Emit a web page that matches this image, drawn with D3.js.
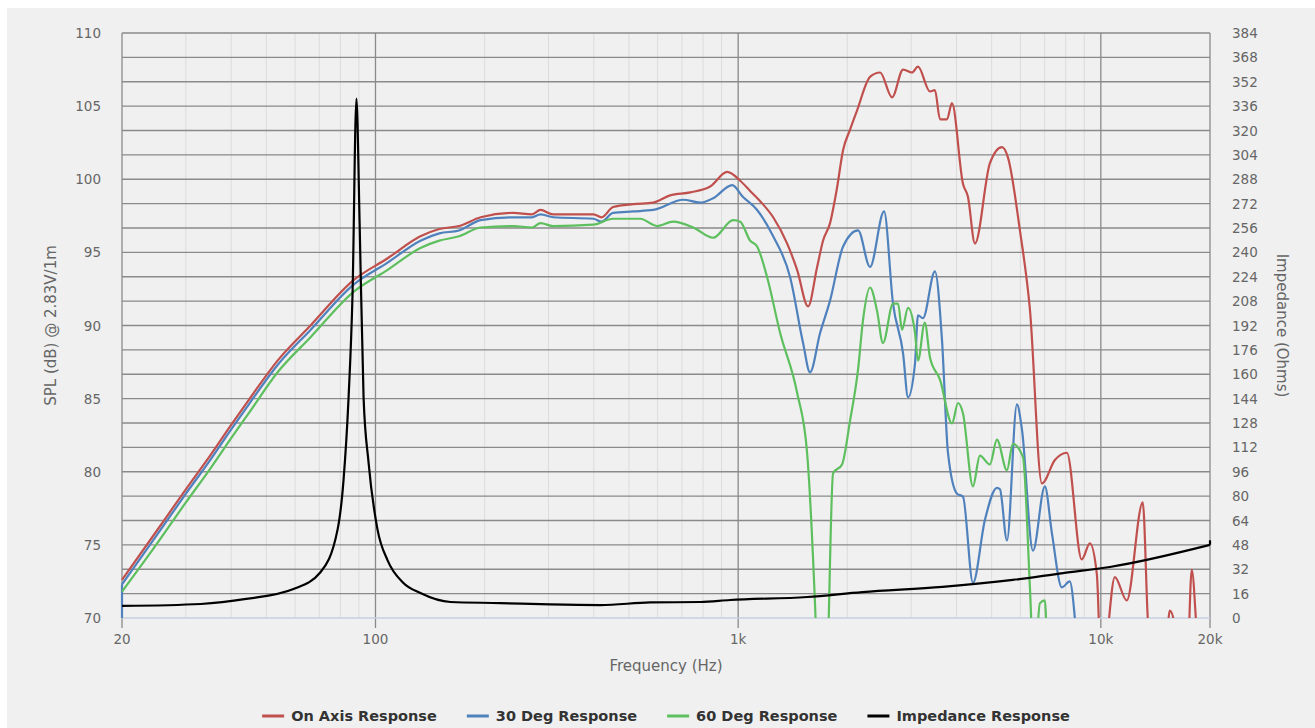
<!DOCTYPE html>
<html>
<head>
<meta charset="utf-8">
<script src="https://cdn.jsdelivr.net/npm/d3@7"></script>
<style>
  body { margin: 0; background: #fff; }
  text { font-family: "DejaVu Sans", Verdana, sans-serif; }
</style>
</head>
<body>
<div id="chart"></div>
<script>
// Datos: [frecuencia Hz, dB]
const onAxis = [
  [20,72.6],[25,76.0],[30,78.8],[35,81.1],[40,83.2],[45,85.0],[53.7,87.6],[66.2,90.0],[87,93.1],[108,94.6],
  [133,96.1],[150,96.6],[170,96.8],[195,97.4],[240,97.7],[270,97.6],[285,97.9],[309,97.6],[399,97.6],[420,97.4],
  [452,98.1],[514,98.3],[583,98.4],[649,98.9],[738,99.1],[837,99.5],[933,100.5],[1013,99.9],[1079,99.2],
  [1150,98.5],[1249,97.4],[1365,95.6],[1454,93.8],[1559,91.3],[1651,94.0],[1714,95.8],[1792,97.0],[1870,99.3],
  [1947,102.0],[2035,103.4],[2127,104.7],[2310,107.0],[2462,107.3],[2657,105.6],[2849,107.5],[3016,107.3],[3132,107.7],
  [3381,106.0],[3488,106.1],[3602,104.1],[3765,104.1],[3886,105.2],[4167,99.7],[4301,98.8],[4497,95.6],
  [4945,101.1],[5338,102.2],[5544,101.5],[5983,96.5],[6375,91.1],[6879,79.2],[7470,80.8],[8060,81.3],
  [8860,74.0],[9330,75.1],[9750,73.0],[10050,65.5],[10390,68.5],[10930,72.8],[11790,71.2],[13050,77.9],
  [13470,70.0],[14200,64],[15000,66],[15490,70.5],[15990,69.5],[16600,64],[17300,66],[17810,73.3],
  [18390,69.0],[19000,64],[20000,62]
];

const deg30 = [
  [20,72.3],[25,75.7],[30,78.5],[35,80.8],[40,82.9],[45,84.7],[53.7,87.3],[66.2,89.7],[87,92.8],[108,94.3],
  [133,95.8],[150,96.3],[170,96.5],[195,97.2],[240,97.4],[270,97.4],[285,97.6],[309,97.4],[399,97.3],
  [420,97.1],[452,97.7],[514,97.8],[583,97.9],[706,98.6],[786,98.4],[853,98.7],[963,99.6],[1030,98.8],
  [1128,97.9],[1249,96.1],[1391,93.3],[1510,88.8],[1578,86.8],[1683,89.5],[1792,91.7],[1947,95.4],
  [2141,96.5],[2310,94.0],[2525,97.8],[2673,91.5],[2849,88.1],[2940,85.1],[3073,87.4],[3132,90.7],
  [3233,90.5],[3488,93.7],[3648,89.0],[3789,81.3],[4012,78.5],[4167,78.3],[4440,72.4],[4790,76.7],
  [5170,78.9],[5270,78.8],[5510,75.3],[5870,84.6],[6060,82.9],[6500,74.6],[7010,79.0],[7330,75.8],
  [7810,72.1],[8210,72.5],[8480,70.0],[8800,64]
];
// tramo vertical que baja al inicio de la curva de 30 grados
const deg30Start = [[20,60],[20,72.3]];

const deg60 = [
  [20,71.8],[25,75.1],[30,77.9],[35,80.2],[40,82.3],[45,84.1],[53.7,86.8],[66.2,89.2],[87,92.3],[108,93.8],
  [133,95.3],[150,95.8],[170,96.1],[195,96.7],[240,96.8],[270,96.7],[285,97.0],[309,96.8],[399,96.9],[452,97.3],
  [537,97.3],[598,96.8],[662,97.1],[752,96.7],[853,96.0],[969,97.2],[1013,97.1],[1079,95.8],[1128,95.4],
  [1202,93.3],[1305,89.5],[1454,85.4],[1549,81.3],[1630,70.8],[1690,60],[1759,66],[1827,79.9],
  [1934,80.5],[2035,83.5],[2141,87.0],[2210,90.4],[2310,92.6],[2415,91.0],[2508,88.8],[2673,91.5],
  [2760,91.5],[2830,89.7],[2940,91.2],[3073,89.5],[3132,87.6],[3270,90.2],[3381,87.8],[3602,86.3],
  [3886,83.3],[4040,84.7],[4167,84.0],[4440,79.0],[4640,81.1],[4945,80.5],[5170,82.2],[5510,80.1],
  [5720,81.9],[6100,81.0],[6375,72.1],[6550,66],[6790,71.0],[7010,71.2],[7150,66],[7400,62]
];

// Impedancia: [frecuencia Hz, ohmios]
const impedance = [
  [20,7.9],[33,9.2],[44,12.5],[59.4,19],[70.5,30],[78.6,58],[81.6,90],[84.3,145],[86.4,211],[88.6,341],
  [90.4,260],[92.7,145],[95.7,102],[101.3,58],[107.9,38],[119.4,23],[133,16.4],[161,10.5],[221,9.8],
  [303,8.9],[417,8.5],[572,10.2],[786,10.5],[950,11.8],[1550,13.8],[2199,17],[3660,20.4],[5720,25],
  [7860,29.5],[10590,33.5],[20000,48]
];
const impedanceEnd = [[20000,48],[20000,51]];

const xTicks = [20, 100, 1000, 10000, 20000];
const xTickLabels = ["20", "100", "1k", "10k", "20k"];
const splTicks = [70, 75, 80, 85, 90, 95, 100, 105, 110];
const ohmTicks = d3.range(0, 385, 16);

const seriesNames = ["On Axis Response", "30 Deg Response", "60 Deg Response", "Impedance Response"];
const seriesColors = ["#c0504d", "#4f81bd", "#5dbf5d", "#000000"];

// Dimensiones
const width = 1315;
const height = 728;
const plotLeft = 122, plotRight = 1210, plotTop = 33, plotBottom = 618;

const svg = d3.select("#chart").append("svg")
    .attr("width", width)
    .attr("height", height);

svg.append("rect")
    .attr("x", 7).attr("y", 8)
    .attr("width", width - 7).attr("height", height - 8)
    .attr("fill", "#f0f0f0");

const x = d3.scaleLog().domain([20, 20000]).range([plotLeft, plotRight]);
const ySpl = d3.scaleLinear().domain([70, 110]).range([plotBottom, plotTop]);
const yOhm = d3.scaleLinear().domain([0, 384]).range([plotBottom, plotTop]);

// Rejilla vertical menor
const minor = [];
[10, 100, 1000, 10000].forEach(dec => {
    for (let m = 2; m <= 9; m++) {
        const f = dec * m;
        if (f > 20 && f < 20000) minor.push(f);
    }
});
svg.append("g").selectAll("line")
    .data(minor)
    .enter().append("line")
    .attr("x1", d => x(d)).attr("x2", d => x(d))
    .attr("y1", plotTop).attr("y2", plotBottom)
    .attr("stroke", "#dcdcdc").attr("stroke-width", 1);

// Rejilla horizontal (sigue al eje de impedancia)
svg.append("g").selectAll("line")
    .data(ohmTicks.filter(d => d > 0))
    .enter().append("line")
    .attr("x1", plotLeft).attr("x2", plotRight)
    .attr("y1", d => yOhm(d)).attr("y2", d => yOhm(d))
    .attr("stroke", "#8a8a8a").attr("stroke-width", 1.3);

// Rejilla vertical mayor y bordes
svg.append("g").selectAll("line")
    .data(xTicks)
    .enter().append("line")
    .attr("x1", d => x(d)).attr("x2", d => x(d))
    .attr("y1", plotTop).attr("y2", plotBottom + 10)
    .attr("stroke", "#8a8a8a").attr("stroke-width", 1.3);

// Linea del eje X
svg.append("line")
    .attr("x1", plotLeft).attr("x2", plotRight)
    .attr("y1", plotBottom).attr("y2", plotBottom)
    .attr("stroke", "#c4d0e0").attr("stroke-width", 1.5);

// Etiquetas de los ejes
svg.append("g").selectAll("text")
    .data(splTicks)
    .enter().append("text")
    .attr("x", 101).attr("y", d => ySpl(d) + 5)
    .attr("text-anchor", "end")
    .attr("font-size", 13.5).attr("fill", "#666")
    .text(d => d);

svg.append("g").selectAll("text")
    .data(ohmTicks)
    .enter().append("text")
    .attr("x", 1232).attr("y", d => yOhm(d) + 5)
    .attr("font-size", 13.5).attr("fill", "#666")
    .text(d => d);

svg.append("g").selectAll("text")
    .data(xTicks)
    .enter().append("text")
    .attr("x", d => x(d)).attr("y", 644)
    .attr("text-anchor", "middle")
    .attr("font-size", 13.5).attr("fill", "#666")
    .text((d, i) => xTickLabels[i]);

svg.append("text")
    .attr("x", (plotLeft + plotRight) / 2).attr("y", 671)
    .attr("text-anchor", "middle")
    .attr("font-size", 15).attr("fill", "#666")
    .text("Frequency (Hz)");

svg.append("text")
    .attr("transform", `translate(56,${(plotTop + plotBottom) / 2}) rotate(-90)`)
    .attr("text-anchor", "middle")
    .attr("font-size", 15).attr("fill", "#666")
    .text("SPL (dB) @ 2.83V/1m");

svg.append("text")
    .attr("transform", `translate(1277,${(plotTop + plotBottom) / 2}) rotate(90)`)
    .attr("text-anchor", "middle")
    .attr("font-size", 15).attr("fill", "#666")
    .text("Impedance (Ohms)");

// Curvas
svg.append("clipPath").attr("id", "plot-clip")
    .append("rect")
    .attr("x", plotLeft - 2).attr("y", plotTop)
    .attr("width", plotRight - plotLeft + 4).attr("height", plotBottom - plotTop);

const splLine = d3.line()
    .x(d => x(d[0]))
    .y(d => ySpl(d[1]))
    .curve(d3.curveMonotoneX);

const ohmLine = d3.line()
    .x(d => x(d[0]))
    .y(d => yOhm(d[1]))
    .curve(d3.curveMonotoneX);

const straightSpl = d3.line().x(d => x(d[0])).y(d => ySpl(d[1]));
const straightOhm = d3.line().x(d => x(d[0])).y(d => yOhm(d[1]));

const plot = svg.append("g").attr("clip-path", "url(#plot-clip)");

function addPath(data, gen, color) {
    plot.append("path")
        .datum(data)
        .attr("d", gen)
        .attr("fill", "none")
        .attr("stroke", color)
        .attr("stroke-width", 2.2)
        .attr("stroke-linejoin", "round");
}

addPath(onAxis, splLine, seriesColors[0]);
addPath(deg30Start, straightSpl, seriesColors[1]);
addPath(deg30, splLine, seriesColors[1]);
addPath(deg60, splLine, seriesColors[2]);
addPath(impedance, ohmLine, seriesColors[3]);
addPath(impedanceEnd, straightOhm, seriesColors[3]);

// Leyenda
const legend = svg.append("g");
const items = seriesNames.map((name, i) => {
    const g = legend.append("g");
    g.append("line")
        .attr("x1", 0).attr("x2", 22)
        .attr("y1", 716).attr("y2", 716)
        .attr("stroke", seriesColors[i]).attr("stroke-width", 3);
    const t = g.append("text")
        .attr("x", 29).attr("y", 721)
        .attr("font-size", 14.5).attr("font-weight", "bold").attr("fill", "#333")
        .text(name);
    return { g: g, w: 29 + t.node().getComputedTextLength() };
});
const gap = 30;
const total = d3.sum(items, d => d.w) + gap * (items.length - 1);
let pos = (plotLeft + plotRight) / 2 - total / 2;
items.forEach(it => {
    it.g.attr("transform", `translate(${pos},0)`);
    pos += it.w + gap;
});
</script>
</body>
</html>
